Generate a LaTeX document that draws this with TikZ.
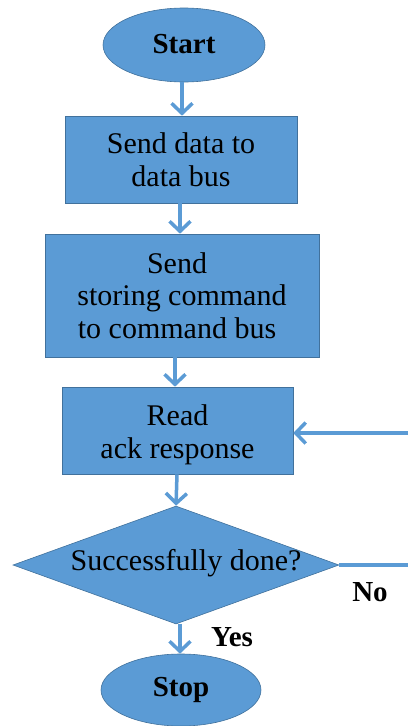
\documentclass[tikz,border=0pt]{standalone}
\usepackage{fontspec}
\setmainfont{Liberation Serif}
\newfontfamily\chartfont{Liberation Serif}
\usetikzlibrary{shapes.geometric,arrows.meta,calc}
\definecolor{boxfill}{HTML}{5B9BD5}
\definecolor{boxline}{HTML}{41719C}
\newcommand{\padright}{\hspace*{10pt}}
\begin{document}
\begin{tikzpicture}[x=1pt,y=-1pt,
  every node/.style={font=\chartfont\fontsize{30}{32.5}\selectfont, text=black},
  terminal/.style={ellipse, fill=boxfill, draw=boxline, line width=0.6pt, inner sep=0pt, font=\chartfont\fontsize{29}{32}\selectfont\bfseries},
  stepbox/.style={rectangle, fill=boxfill, draw=boxline, line width=0.6pt, inner sep=0pt, align=center},
  decision/.style={diamond, fill=boxfill, draw=boxline, line width=0.6pt, inner sep=0pt, aspect=2.76},
  flow/.style={draw=boxfill, line width=3.5pt, -{Straight Barb[length=10pt,width=21pt]}},
  plain/.style={draw=boxfill, line width=3.5pt},
  answer/.style={font=\chartfont\fontsize{29}{32}\selectfont\bfseries}]
\useasboundingbox (0,0) rectangle (408,726);

% terminals, process steps and the decision
\node[terminal, minimum width=162pt, minimum height=74pt] (start) at (184,45) {\raisebox{2pt}{Start}};
\node[stepbox, minimum width=232pt, minimum height=87pt] (send) at (181,159.5) {Send data to\\data bus};
\node[stepbox, minimum width=274pt, minimum height=123pt] (cmd) at (182,295.5) {Send\padright\\storing command\padright\\to command bus\padright};
\node[stepbox, minimum width=231pt, minimum height=87pt] (ack) at (177.5,430.5) {\rule{0pt}{29pt}Read\\ack response};
\node[decision, minimum width=326pt, minimum height=118pt] (done) at (176,565) {};
\node (question) at (186,563) {Successfully done?};
\node[terminal, minimum width=160pt, minimum height=72pt] (stop) at (181,690) {\raisebox{1pt}{Stop}};

% loose ends of the retry loop at the right border
\coordinate (loopin) at (408,433);
\coordinate (loopout) at (408,565);

% main flow
\draw[flow] (start.south -| 182,0) -- (182,0 |- send.north);
\draw[flow] (send.south -| 180,0) -- (180,0 |- cmd.north);
\draw[flow] (cmd.south -| 175,0) -- (175,0 |- ack.north);
\draw[flow] (ack.south -| 177,0) -- (done.north);
\draw[flow] (180,624) -- (180,0 |- stop.north);

% retry loop
\draw[plain] (done.east) -- (loopout);
\draw[flow] (loopin) -- (loopin -| ack.east);

% branch labels
\node[answer] (no) at (370,592) {No};
\node[answer] (yes) at (232,637) {Yes};
\end{tikzpicture}
\end{document}
